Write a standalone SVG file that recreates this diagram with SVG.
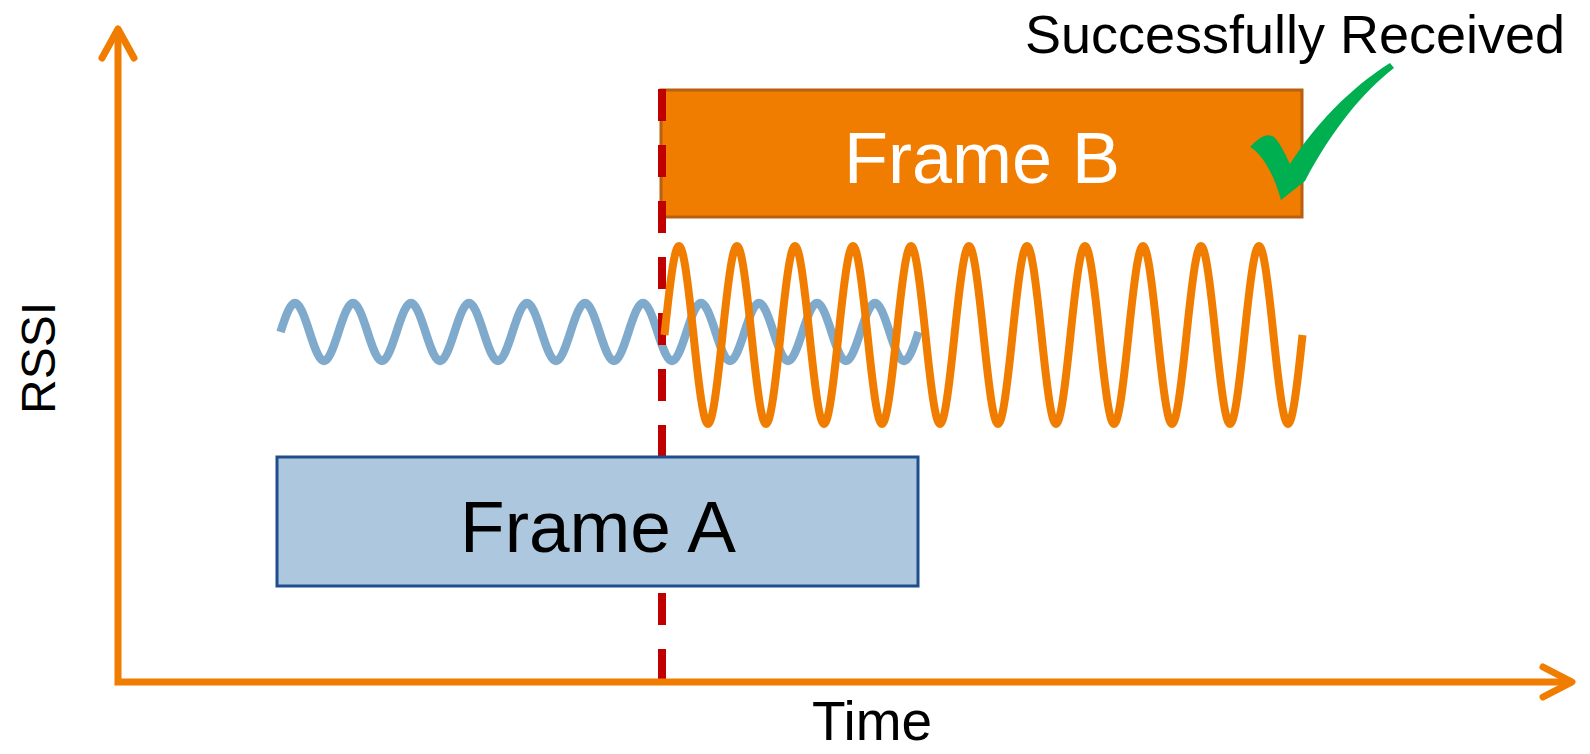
<svg xmlns="http://www.w3.org/2000/svg" width="1590" height="754" viewBox="0 0 1590 754">
<style>
.lbl{font-family:"Liberation Sans",Arial,sans-serif;fill:#000}
.axis{fill:none;stroke:#F07D00;stroke-width:7}
.head{fill:none;stroke:#F07D00;stroke-width:7;stroke-linecap:round;stroke-linejoin:round}
.wave{fill:none;stroke-linejoin:round}
</style>
<rect width="1590" height="754" fill="#fff"/>
<g id="frameB">
<rect x="661" y="90" width="641" height="127" fill="#F07C00" stroke="#B8600F" stroke-width="3"/>
<text class="lbl" x="982" y="183" font-size="72" text-anchor="middle" style="fill:#fff">Frame B</text>
</g>
<path id="waveA" class="wave" stroke="#7FAACC" stroke-width="8.5" d="M280.5,332 c12.31,-38.67 16.69,-38.67 29,0 s16.69,38.67 29,0 s16.69,-38.67 29,0 s16.69,38.67 29,0 s16.69,-38.67 29,0 s16.69,38.67 29,0 s16.69,-38.67 29,0 s16.69,38.67 29,0 s16.69,-38.67 29,0 s16.69,38.67 29,0 s16.69,-38.67 29,0 s16.69,38.67 29,0 s16.69,-38.67 29,0 s16.69,38.67 29,0 s16.69,-38.67 29,0 s16.69,38.67 29,0 s16.69,-38.67 29,0 s16.69,38.67 29,0 s16.69,-38.67 29,0 s16.69,38.67 29,0 s16.69,-38.67 29,0 s16.69,38.67 29,0"/>
<line id="collision" x1="662" y1="89" x2="662" y2="681" stroke="#C00000" stroke-width="8" stroke-dasharray="32 24"/>
<path id="waveB" class="wave" stroke="#F07D00" stroke-width="8" d="M664.5,335 c12.31,-118.67 16.69,-118.67 29,0 s16.69,118.67 29,0 s16.69,-118.67 29,0 s16.69,118.67 29,0 s16.69,-118.67 29,0 s16.69,118.67 29,0 s16.69,-118.67 29,0 s16.69,118.67 29,0 s16.69,-118.67 29,0 s16.69,118.67 29,0 s16.69,-118.67 29,0 s16.69,118.67 29,0 s16.69,-118.67 29,0 s16.69,118.67 29,0 s16.69,-118.67 29,0 s16.69,118.67 29,0 s16.69,-118.67 29,0 s16.69,118.67 29,0 s16.69,-118.67 29,0 s16.69,118.67 29,0 s16.69,-118.67 29,0 s16.69,118.67 29,0"/>
<g id="frameA">
<rect x="277" y="457" width="641" height="129" fill="#ADC8DE" stroke="#1F4E8C" stroke-width="3"/>
<text class="lbl" x="598" y="552" font-size="73" text-anchor="middle">Frame A</text>
</g>
<g id="check">
<path fill="#00B050" d="M1250,147 C1258,139 1266,132 1274,137 C1281,144 1286,156 1290,164 C1315,125 1350,88 1390,63 L1394,68 C1362,93 1332,130 1305,181 L1281,200 C1275,178 1264,155 1250,147 Z"/>
</g>
<text id="received" class="lbl" x="1295" y="53" font-size="54" text-anchor="middle">Successfully Received</text>
<g id="connectors">
<path class="axis" d="M118,31 V682 H1569"/>
<polyline class="head" points="102,58 118,29 134,58"/>
<polyline class="head" points="1543,667 1572,682 1543,697"/>
</g>
<text id="xlabel" class="lbl" x="872" y="740" font-size="55" text-anchor="middle">Time</text>
<text id="ylabel" class="lbl" transform="translate(55,358) rotate(-90)" x="0" y="0" font-size="48" text-anchor="middle">RSSI</text>
</svg>
